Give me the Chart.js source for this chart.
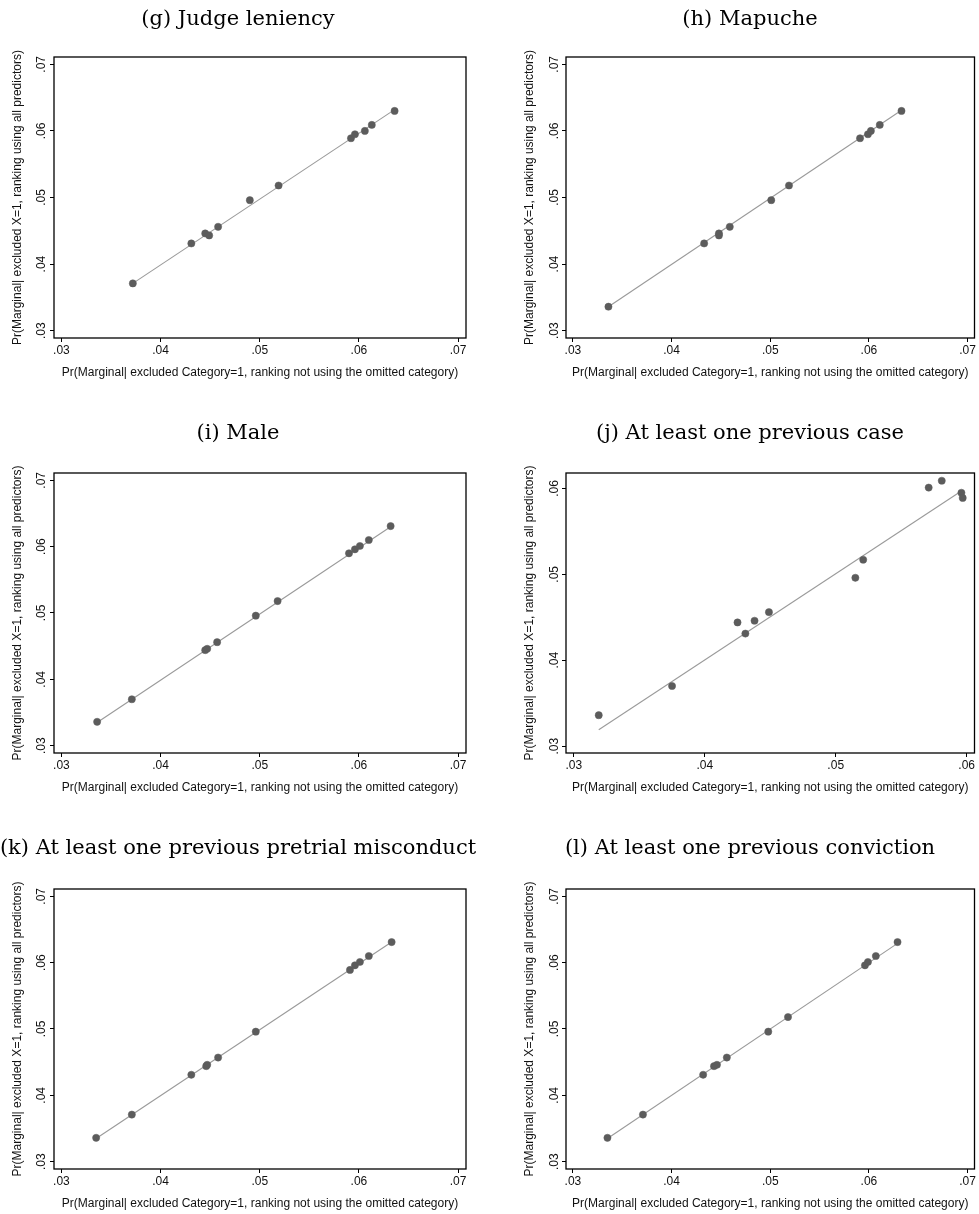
<!DOCTYPE html>
<html>
<head>
<meta charset="utf-8">
<script src="https://cdn.jsdelivr.net/npm/chart.js@4.4.1/dist/chart.umd.min.js"></script>
<style>
  html, body { margin: 0; padding: 0; background: #fff; }
  body { width: 979px; height: 1214px; position: relative; overflow: hidden; }
  canvas { position: absolute; }
</style>
</head>
<body>
<canvas id="panelG" width="489" height="400" style="left:0px;top:0px"></canvas>
<canvas id="panelH" width="490" height="400" style="left:489px;top:0px"></canvas>
<canvas id="panelI" width="489" height="400" style="left:0px;top:400px"></canvas>
<canvas id="panelJ" width="490" height="400" style="left:489px;top:400px"></canvas>
<canvas id="panelK" width="489" height="414" style="left:0px;top:800px"></canvas>
<canvas id="panelL" width="490" height="414" style="left:489px;top:800px"></canvas>
<script>
// ticks
const fullTicks = [0.03, 0.04, 0.05, 0.06, 0.07];
const fullTickLabels = [".03", ".04", ".05", ".06", ".07"];
const caseTicks = [0.03, 0.04, 0.05, 0.06];
const caseTickLabels = [".03", ".04", ".05", ".06"];

const xTitle = "Pr(Marginal| excluded Category=1, ranking not using the omitted category)";
const yTitle = "Pr(Marginal| excluded X=1, ranking using all predictors)";

// (g) Judge leniency
const judgeX = [0.0372, 0.0431, 0.0445, 0.0449, 0.0458, 0.0490, 0.0519, 0.0592, 0.0596, 0.0606, 0.0613, 0.0636];
const judgeY = [0.0371, 0.0431, 0.0446, 0.0443, 0.0456, 0.0496, 0.0518, 0.0589, 0.0595, 0.0600, 0.0609, 0.0630];
const judgeFitX = [0.0372, 0.0636];
const judgeFitY = [0.0371, 0.0632];

// (h) Mapuche
const mapucheX = [0.0336, 0.0433, 0.0448, 0.0448, 0.0459, 0.0501, 0.0519, 0.0591, 0.0599, 0.0602, 0.0611, 0.0633];
const mapucheY = [0.0336, 0.0431, 0.0446, 0.0443, 0.0456, 0.0496, 0.0518, 0.0589, 0.0595, 0.0600, 0.0609, 0.0630];
const mapucheFitX = [0.0336, 0.0633];
const mapucheFitY = [0.0336, 0.0631];

// (i) Male
const maleX = [0.0336, 0.0371, 0.0445, 0.0447, 0.0457, 0.0496, 0.0518, 0.0590, 0.0596, 0.0601, 0.0610, 0.0632];
const maleY = [0.0336, 0.0370, 0.0444, 0.0446, 0.0456, 0.0496, 0.0518, 0.0590, 0.0596, 0.0601, 0.0610, 0.0631];
const maleFitX = [0.0336, 0.0632];
const maleFitY = [0.0335, 0.0630];

// (j) At least one previous case
const caseX = [0.0319, 0.0375, 0.0425, 0.0431, 0.0438, 0.0449, 0.0515, 0.0521, 0.0571, 0.0581, 0.0596, 0.0597];
const caseY = [0.0336, 0.0370, 0.0444, 0.0431, 0.0446, 0.0456, 0.0496, 0.0517, 0.0601, 0.0609, 0.0595, 0.0589];
const caseFitX = [0.0319, 0.0596];
const caseFitY = [0.0319, 0.0597];

// (k) At least one previous pretrial misconduct
const misconductX = [0.0335, 0.0371, 0.0431, 0.0446, 0.0447, 0.0458, 0.0496, 0.0591, 0.0596, 0.0601, 0.0610, 0.0633];
const misconductY = [0.0336, 0.0371, 0.0431, 0.0444, 0.0446, 0.0457, 0.0496, 0.0589, 0.0596, 0.0601, 0.0610, 0.0631];
const misconductFitX = [0.0335, 0.0633];
const misconductFitY = [0.0335, 0.0631];

// (l) At least one previous conviction
const convictionX = [0.0335, 0.0371, 0.0432, 0.0443, 0.0446, 0.0456, 0.0498, 0.0518, 0.0596, 0.0599, 0.0607, 0.0629];
const convictionY = [0.0336, 0.0371, 0.0431, 0.0444, 0.0446, 0.0457, 0.0496, 0.0518, 0.0596, 0.0601, 0.0610, 0.0631];
const convictionFitX = [0.0335, 0.0629];
const convictionFitY = [0.0335, 0.0629];

const leftCol = { yAxisWidth: 54, padRight: 23, titleX: 238, yTickOff: 12.5 };
const rightCol = { yAxisWidth: 77, padRight: 2, titleX: 261, yTickOff: 11 };
const rows = [
  { padTop: 57, xAxisHeight: 62, titleY: 20 },
  { padTop: 73, xAxisHeight: 47, titleY: 34 },
  { padTop: 89, xAxisHeight: 45, titleY: 49 },
];

const panels = [
  { id: "panelG", title: "(g) Judge leniency", xs: judgeX, ys: judgeY, fx: judgeFitX, fy: judgeFitY, col: leftCol, row: rows[0] },
  { id: "panelH", title: "(h) Mapuche", xs: mapucheX, ys: mapucheY, fx: mapucheFitX, fy: mapucheFitY, col: rightCol, row: rows[0] },
  { id: "panelI", title: "(i) Male", xs: maleX, ys: maleY, fx: maleFitX, fy: maleFitY, col: leftCol, row: rows[1] },
  { id: "panelJ", title: "(j) At least one previous case", xs: caseX, ys: caseY, fx: caseFitX, fy: caseFitY, col: rightCol, row: rows[1], narrow: true },
  { id: "panelK", title: "(k) At least one previous pretrial misconduct", xs: misconductX, ys: misconductY, fx: misconductFitX, fy: misconductFitY, col: leftCol, row: rows[2] },
  { id: "panelL", title: "(l) At least one previous conviction", xs: convictionX, ys: convictionY, fx: convictionFitX, fy: convictionFitY, col: rightCol, row: rows[2] },
];

function toPoints(xs, ys) {
  return xs.map((x, i) => ({ x: x, y: ys[i] }));
}

// frame, tick labels, axis titles and panel title
function panelText(p) {
  return {
    id: "panelText",
    afterDraw(chart) {
      const ctx = chart.ctx;
      const area = chart.chartArea;
      const sx = chart.scales.x;
      const sy = chart.scales.y;
      ctx.save();
      ctx.strokeStyle = "#000";
      ctx.lineWidth = 1.3;
      ctx.strokeRect(area.left, area.top, area.right - area.left, area.bottom - area.top);

      ctx.fillStyle = "#111";
      ctx.font = "12px 'Liberation Sans', Arial, sans-serif";
      ctx.textAlign = "center";
      ctx.textBaseline = "middle";
      p.xTicks.forEach((v, i) => {
        ctx.fillText(p.xLabels[i], sx.getPixelForValue(v), area.bottom + 12.5);
      });
      ctx.fillText(xTitle, (area.left + area.right) / 2, area.bottom + 35);

      p.yTicks.forEach((v, i) => {
        ctx.save();
        ctx.translate(area.left - p.col.yTickOff, sy.getPixelForValue(v));
        ctx.rotate(-Math.PI / 2);
        ctx.fillText(p.yLabels[i], 0, 0);
        ctx.restore();
      });
      ctx.save();
      ctx.translate(area.left - 36, (area.top + area.bottom) / 2);
      ctx.rotate(-Math.PI / 2);
      ctx.fillText(yTitle, 0, 0);
      ctx.restore();

      ctx.fillStyle = "#000";
      ctx.font = "21px 'DejaVu Serif', 'Liberation Serif', serif";
      ctx.fillText(p.title, p.col.titleX, p.row.titleY);
      ctx.restore();
    },
  };
}

panels.forEach((p) => {
  p.xTicks = p.narrow ? caseTicks : fullTicks;
  p.xLabels = p.narrow ? caseTickLabels : fullTickLabels;
  p.yTicks = p.narrow ? caseTicks : fullTicks;
  p.yLabels = p.narrow ? caseTickLabels : fullTickLabels;
  const xMin = p.narrow ? 0.0294 : (p.col === leftCol ? 0.02925 : 0.0293);
  const xMax = p.narrow ? 0.0606 : (p.col === leftCol ? 0.0708 : 0.0707);
  const yMin = p.narrow ? 0.0292 : 0.0289;
  const yMax = p.narrow ? 0.0618 : 0.0711;

  new Chart(document.getElementById(p.id), {
    type: "scatter",
    data: {
      datasets: [
        {
          data: toPoints(p.xs, p.ys),
          pointRadius: 3.6,
          pointBackgroundColor: "#5c5c5c",
          pointBorderColor: "#5c5c5c",
          pointBorderWidth: 0.5,
        },
        {
          data: toPoints(p.fx, p.fy),
          showLine: true,
          borderColor: "#9a9a9a",
          borderWidth: 1.1,
          pointRadius: 0,
        },
      ],
    },
    options: {
      responsive: false,
      animation: false,
      events: [],
      layout: { padding: { left: 0, right: p.col.padRight, top: p.row.padTop, bottom: 0 } },
      plugins: { legend: { display: false }, tooltip: { enabled: false } },
      scales: {
        x: {
          type: "linear",
          min: xMin,
          max: xMax,
          afterBuildTicks: (axis) => { axis.ticks = p.xTicks.map((v) => ({ value: v })); },
          afterFit: (scale) => { scale.height = p.row.xAxisHeight; },
          ticks: { display: false },
          grid: { drawOnChartArea: false, drawTicks: true, tickLength: 4, tickColor: "#000", tickWidth: 1 },
          border: { display: false },
        },
        y: {
          type: "linear",
          min: yMin,
          max: yMax,
          afterBuildTicks: (axis) => { axis.ticks = p.yTicks.map((v) => ({ value: v })); },
          afterFit: (scale) => { scale.width = p.col.yAxisWidth; },
          ticks: { display: false },
          grid: { drawOnChartArea: false, drawTicks: true, tickLength: 4, tickColor: "#000", tickWidth: 1 },
          border: { display: false },
        },
      },
    },
    plugins: [panelText(p)],
  });
});
</script>
</body>
</html>
